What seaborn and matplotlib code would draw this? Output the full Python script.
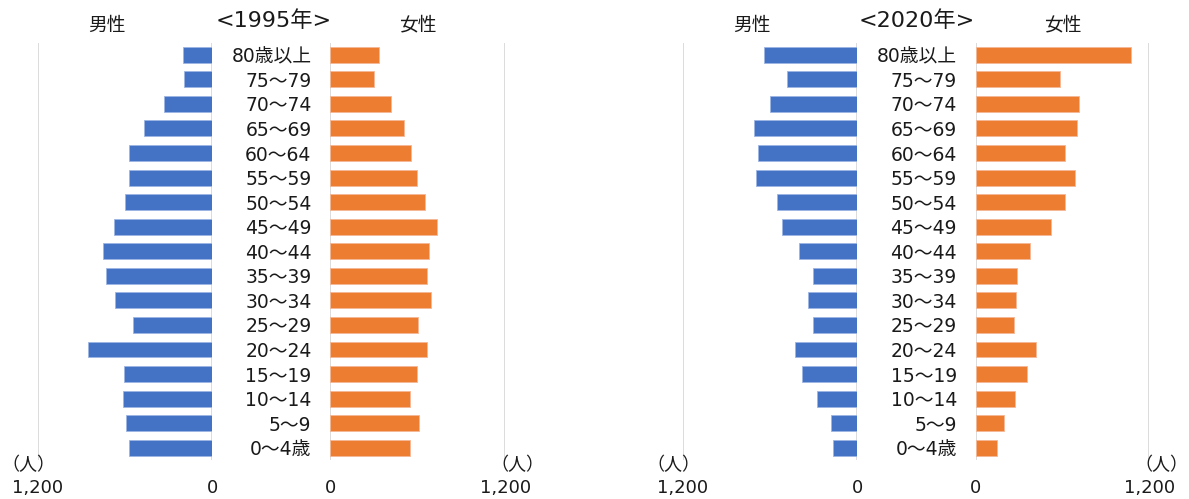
import numpy as np
import pandas as pd
import matplotlib
matplotlib.use("Agg")
import matplotlib.pyplot as plt
import seaborn as sns

sns.set_style("white")
plt.rcParams['font.family'] = ['DejaVu Sans', 'Noto Sans CJK JP']
plt.rcParams['text.color'] = '#1a1a1a'
plt.rcParams['xtick.color'] = '#1a1a1a'
plt.rcParams['ytick.color'] = '#1a1a1a'

# age groups, top to bottom
ages = ["80歳以上", "75～79", "70～74", "65～69", "60～64", "55～59", "50～54",
        "45～49", "40～44", "35～39", "30～34", "25～29", "20～24", "15～19",
        "10～14", "5～9", "0～4歳"]

male_1995 = [199, 192, 330, 471, 570, 572, 598, 678, 751, 728, 669, 547, 852, 605, 614, 593, 570]
female_1995 = [336, 302, 416, 503, 551, 597, 649, 734, 675, 665, 688, 603, 661, 594, 547, 606, 544]
male_2020 = [639, 486, 603, 708, 683, 694, 552, 520, 403, 305, 339, 307, 428, 383, 275, 179, 165]
female_2020 = [1074, 585, 712, 698, 617, 687, 620, 521, 373, 283, 279, 267, 415, 357, 270, 198, 145]

years = ["1995", "2020"]
x_max = 1200
blue = "#4472C4"
orange = "#ED7D31"
grid_c = "#D9D9D9"

W, H = 1189, 499
fig = plt.figure(figsize=(W / 100, H / 100), dpi=100)

top_px, bot_px = 42.5, 460


def add_ax(x0, x1):
    return fig.add_axes([x0 / W, (H - bot_px) / H, (x1 - x0) / W, (bot_px - top_px) / H])


def style(ax, inverted):
    ax.set_xlim((x_max, 0) if inverted else (0, x_max))
    ax.set_xticks([0, x_max])
    ax.set_xticklabels(["0", "1,200"])
    ax.grid(axis='x', color=grid_c, linewidth=1.3)
    ax.grid(axis='y', visible=False)
    ax.set_axisbelow(True)
    for s in ax.spines.values():
        s.set_visible(False)
    ax.tick_params(axis='x', length=0, pad=14, labelsize=13)
    ax.set_xlabel("")
    ax.set_ylabel("")


panels = [
    (male_1995, female_1995, (37.7, 212.3), (330.3, 505.3), 274, 107, 418),
    (male_2020, female_2020, (682.7, 857.3), (975.7, 1149.3), 917, 752, 1063),
]

for year, (m, f, mx, fx, tx, mlx, flx) in zip(years, panels):
    df = pd.DataFrame({"age": ages, "male": m, "female": f})

    axm = add_ax(*mx)
    sns.barplot(data=df, x="male", y="age", ax=axm, color=blue, width=0.65,
                orient='h', saturation=1, edgecolor="#9DB5E3", linewidth=0.6)
    style(axm, True)
    axm.set_yticks([])
    axm.text(-0.055, -0.012, "（人）", transform=axm.transAxes, ha='center', va='center',
             fontsize=13, family='Noto Sans CJK JP')

    axf = add_ax(*fx)
    sns.barplot(data=df, x="female", y="age", ax=axf, color=orange, width=0.65,
                orient='h', saturation=1, edgecolor="#F5B896", linewidth=0.6)
    style(axf, False)
    axf.tick_params(axis='y', length=0, pad=13.5, labelsize=13.5)
    axf.set_yticklabels(ages)
    axf.text(1.07, -0.012, "（人）", transform=axf.transAxes, ha='center', va='center',
             fontsize=13, family='Noto Sans CJK JP')

    fig.text(tx / W, 1 - 21 / H, f"<{year}年>", ha='center', va='center', fontsize=16)
    fig.text(mlx / W, 1 - 25 / H, "男性", ha='center', va='center', fontsize=13.5)
    fig.text(flx / W, 1 - 25 / H, "女性", ha='center', va='center', fontsize=13.5)

fig.savefig("out.png", dpi=100, facecolor="white")
